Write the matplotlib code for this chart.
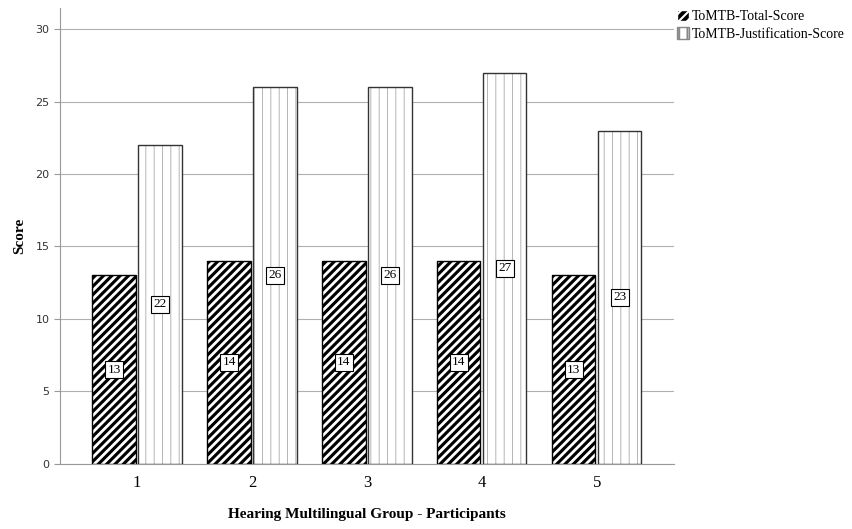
import matplotlib.pyplot as plt
import numpy as np
from matplotlib.patches import Patch

participants = ['1', '2', '3', '4', '5']
total_score = [13, 14, 14, 14, 13]
justification_score = [22, 26, 26, 27, 23]

fig = plt.figure(figsize=(8.52, 5.29), dpi=100)
ax = fig.add_axes([0.0704, 0.1229, 0.7206, 0.8620])

x = np.arange(len(participants))
w = 0.375
off = 0.2

# black bars with white diagonal stripes
plt.rcParams['hatch.linewidth'] = 2.0
ax.bar(x - off, total_score, w, color='black', edgecolor='white', hatch='////', linewidth=0, zorder=2)
ax.bar(x - off, total_score, w, fill=False, edgecolor='black', linewidth=1, zorder=3)

# dotted bars
plt.rcParams['hatch.linewidth'] = 0.6
ax.bar(x + off, justification_score, w, color='white', edgecolor='#a8a8a8', hatch='||', linewidth=0, zorder=2)
ax.bar(x + off, justification_score, w, fill=False, edgecolor='#333333', linewidth=1, zorder=3)

for xi, v in zip(x - off, total_score):
    ax.text(xi, v / 2, str(v), ha='center', va='center', fontsize=9.5, family='Liberation Serif',
            bbox=dict(boxstyle='square,pad=0.2', fc='white', ec='black', lw=0.8), zorder=4)
for xi, v in zip(x + off, justification_score):
    ax.text(xi, v / 2, str(v), ha='center', va='center', fontsize=9.5, family='Liberation Serif',
            bbox=dict(boxstyle='square,pad=0.2', fc='white', ec='black', lw=0.8), zorder=4)

ax.set_xlim(-0.67, 4.67)
ax.set_ylim(0, 31.45)
ax.set_yticks([0, 5, 10, 15, 20, 25, 30])
ax.set_xticks(x)
ax.set_xticklabels(participants, family='Liberation Serif', fontsize=12)
for lab in ax.get_yticklabels():
    lab.set_family('DejaVu Sans')
    lab.set_fontsize(8)
    lab.set_color('#333333')
ax.yaxis.grid(True, color='#b0b0b0', linewidth=0.8, zorder=0)
ax.set_axisbelow(True)
ax.tick_params(axis='x', length=0, pad=8)
ax.tick_params(axis='y', length=4, color='#999999')
for s in ['top', 'right']:
    ax.spines[s].set_visible(False)
ax.spines['left'].set_color('#999999')
ax.spines['bottom'].set_color('#999999')

ax.set_xlabel('Hearing Multilingual Group - Participants', family='Liberation Serif',
              fontweight='bold', fontsize=11, labelpad=12)
ax.set_ylabel('Score', family='Liberation Serif', fontweight='bold', fontsize=11, labelpad=7)

plt.rcParams['hatch.linewidth'] = 1.5
handles = [Patch(facecolor='black', edgecolor='white', hatch='////', label='ToMTB-Total-Score'),
           Patch(facecolor='white', edgecolor='#888888', hatch='||', label='ToMTB-Justification-Score')]
leg = fig.legend(handles=handles, loc='upper left', bbox_to_anchor=(0.783, 1.0), frameon=False,
                 prop={'family': 'Liberation Serif', 'size': 10}, handlelength=0.9, handleheight=0.9,
                 handletextpad=0.2, labelspacing=0.3, borderaxespad=0.3)

fig.savefig('out.png', dpi=100)
